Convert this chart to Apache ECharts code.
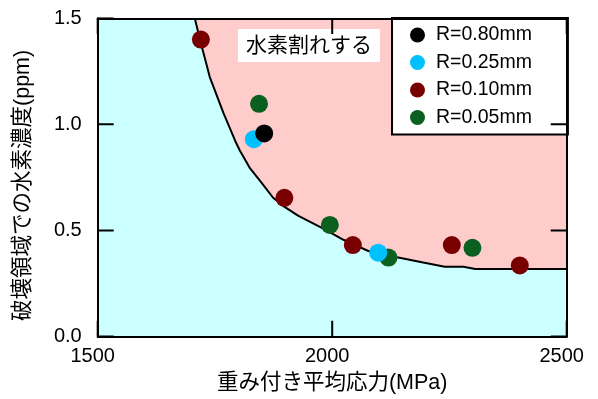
<!DOCTYPE html>
<html>
<head>
<meta charset="utf-8">
<script src="https://cdn.jsdelivr.net/npm/echarts@6/dist/echarts.min.js"></script>
<style>
  html, body { margin: 0; padding: 0; background: #fff; }
  #chart { width: 598px; height: 399px; }
</style>
</head>
<body>
<div id="chart"></div>
<script>
// Fracture boundary: weighted mean stress (MPa) vs. hydrogen concentration (ppm)
const boundaryStress = [1707, 1718, 1739, 1768, 1793, 1803, 1825, 1850, 1874, 1896, 1928, 1981, 2024, 2077, 2138, 2194, 2240, 2280, 2305, 2500];
const boundaryH      = [1.50, 1.40, 1.223, 1.054, 0.923, 0.877, 0.792, 0.723, 0.654, 0.615, 0.569, 0.508, 0.456, 0.403, 0.374, 0.349, 0.329, 0.329, 0.318, 0.318];

// Measured points per notch radius
const r080Stress = [1855];
const r080H      = [0.957];
const r025Stress = [1833, 2098];
const r025H      = [0.93, 0.395];
const r010Stress = [1720, 1898, 2044, 2255, 2400];
const r010H      = [1.40, 0.654, 0.431, 0.431, 0.335];
const r005Stress = [1844, 1995, 2120, 2299];
const r005H      = [1.097, 0.526, 0.372, 0.418];

const legendNames = ['R=0.80mm', 'R=0.25mm', 'R=0.10mm', 'R=0.05mm'];
const xTickValues = [1500, 2000, 2500];
const yTickValues = [0, 0.5, 1, 1.5];
const xTickLabels = { 1500: '1500', 2000: '2000', 2500: '2500' };
const yTickLabels = { 0: '0.0', 0.5: '0.5', 1: '1.0', 1.5: '1.5' };

// Region captions, anchored at their top-left corner (stress, ppm)
const captionText   = ['水素割れする', '水素割れしない'];
const captionStress = [1799, 1528];
const captionH      = [1.45, 0.186];
const captionBoxW   = [142, 165];

const X_MIN = 1500, X_MAX = 2500, Y_MIN = 0, Y_MAX = 1.5;
const GRID = { left: 97.7, right: 31.3, top: 18.3, bottom: 55.7 };
const CHART_W = 598, CHART_H = 399;
const TICK_PX = 16;
const FONT = "'Liberation Sans', 'Noto Sans CJK JP', sans-serif";
const zip = (xs, ys) => xs.map((x, i) => [x, ys[i]]);

// Tick length expressed in axis units so the ticks follow the scales
const plotW = CHART_W - GRID.left - GRID.right;
const plotH = CHART_H - GRID.top - GRID.bottom;
const tickDX = TICK_PX * (X_MAX - X_MIN) / plotW;
const tickDY = TICK_PX * (Y_MAX - Y_MIN) / plotH;

function frameAxis(extra) {
  return Object.assign({
    type: 'value',
    z: 10,
    axisLine: { show: true, onZero: false, lineStyle: { color: '#000', width: 2 } },
    axisTick: { show: false },
    splitLine: { show: false }
  }, extra);
}

// Inward ticks on all four sides, each as a short two-point line
const tickSegments = [];
xTickValues.forEach(v => {
  tickSegments.push([[v, Y_MIN], [v, Y_MIN + tickDY]]);
  tickSegments.push([[v, Y_MAX], [v, Y_MAX - tickDY]]);
});
yTickValues.forEach(v => {
  tickSegments.push([[X_MIN, v], [X_MIN + tickDX, v]]);
  tickSegments.push([[X_MAX, v], [X_MAX - tickDX, v]]);
});
const tickSeries = tickSegments.map(seg => ({
  type: 'line', data: seg, symbol: 'none', silent: true, z: 9,
  lineStyle: { color: '#000', width: 2 }
}));

const chart = echarts.init(document.getElementById('chart'), null, { renderer: 'canvas' });

chart.setOption({
  animation: false,
  grid: {
    left: GRID.left, right: GRID.right, top: GRID.top, bottom: GRID.bottom,
    show: true, backgroundColor: '#FFCCCC', borderWidth: 0
  },
  xAxis: [
    frameAxis({
      position: 'bottom', min: X_MIN, max: X_MAX, interval: 500,
      axisLabel: {
        margin: 10, fontSize: 20, color: '#000', fontFamily: FONT,
        padding: [0, 10, 0, 0],
        formatter: v => xTickLabels[v] || ''
      },
      name: '重み付き平均応力(MPa)', nameLocation: 'middle', nameGap: 36,
      nameTextStyle: { fontSize: 21.5, color: '#000', fontFamily: FONT }
    }),
    frameAxis({
      position: 'top', min: X_MIN, max: X_MAX, interval: 500,
      axisLabel: { show: false }
    })
  ],
  yAxis: [
    frameAxis({
      position: 'left', min: Y_MIN, max: Y_MAX, interval: 0.5,
      axisLabel: {
        margin: 16, fontSize: 20, color: '#000', fontFamily: FONT,
        formatter: v => yTickLabels[v] || ''
      },
      name: '破壊領域での水素濃度(ppm)', nameLocation: 'middle', nameGap: 64,
      nameTextStyle: { fontSize: 21.5, color: '#000', fontFamily: FONT, padding: [0, 16, 0, 0] }
    }),
    frameAxis({
      position: 'right', min: Y_MIN, max: Y_MAX, interval: 0.5,
      axisLabel: { show: false }
    })
  ],
  legend: {
    data: legendNames,
    orient: 'vertical',
    left: 392, top: 18,
    padding: [7, 36, 7, 18],
    itemGap: 7.5,
    itemWidth: 15, itemHeight: 15,
    backgroundColor: '#fff',
    borderColor: '#000', borderWidth: 2,
    textStyle: { fontSize: 19.5, color: '#000', fontFamily: FONT, lineHeight: 20, padding: [0, 0, 0, 6] }
  },
  series: [
    {
      // no-fracture region (below the boundary)
      type: 'line',
      data: [[X_MIN, Y_MAX]].concat(zip(boundaryStress, boundaryH)),
      symbol: 'none',
      lineStyle: { width: 0 },
      areaStyle: { color: '#CCFFFF', opacity: 1, origin: 'start' },
      silent: true, z: 1
    },
    {
      type: 'line',
      data: zip(boundaryStress, boundaryH),
      symbol: 'none',
      lineStyle: { color: '#000', width: 2 },
      silent: true, z: 2
    }
  ].concat(tickSeries, [
    {
      name: 'R=0.05mm', type: 'scatter', symbol: 'circle', symbolSize: 18,
      itemStyle: { color: '#0B6020', opacity: 1 }, data: zip(r005Stress, r005H), z: 12
    },
    {
      name: 'R=0.10mm', type: 'scatter', symbol: 'circle', symbolSize: 18,
      itemStyle: { color: '#780000', opacity: 1 }, data: zip(r010Stress, r010H), z: 12
    },
    {
      name: 'R=0.25mm', type: 'scatter', symbol: 'circle', symbolSize: 18,
      itemStyle: { color: '#00C0FF', opacity: 1 }, data: zip(r025Stress, r025H), z: 12
    },
    {
      name: 'R=0.80mm', type: 'scatter', symbol: 'circle', symbolSize: 18,
      itemStyle: { color: '#000000', opacity: 1 }, data: zip(r080Stress, r080H), z: 12
    }
  ])
});

// Region captions on white boxes, placed at their data anchors
const captions = captionText.map((t, i) => {
  const p = chart.convertToPixel({ xAxisIndex: 0, yAxisIndex: 0 }, [captionStress[i], captionH[i]]);
  return {
    type: 'group', x: p[0], y: p[1], z: 20,
    children: [
      { type: 'rect', shape: { x: 0, y: 0, width: captionBoxW[i], height: 33 }, style: { fill: '#fff' } },
      {
        type: 'text', x: captionBoxW[i] / 2, y: 17.5,
        style: { text: t, fill: '#000', fontSize: 21, fontFamily: FONT, align: 'center', verticalAlign: 'middle' }
      }
    ]
  };
});
chart.setOption({ graphic: captions });
</script>
</body>
</html>
